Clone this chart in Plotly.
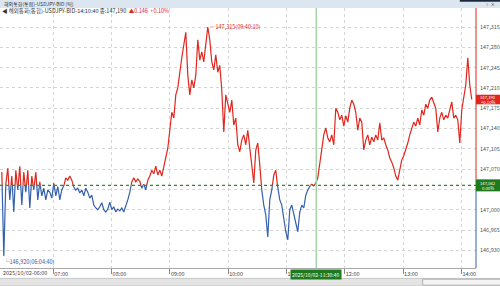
import plotly.graph_objects as go
import numpy as np

# ---- data ----
prices = [
    147.065, 146.920, 147.044, 147.072, 147.017, 147.058, 146.996, 147.068, 147.034, 147.075,
    147.008, 147.065, 147.030, 147.068, 147.003, 147.058, 147.034, 147.065, 147.017, 147.048,
    147.024, 147.037, 147.017, 147.034, 147.030, 147.020, 147.046, 147.024, 147.040, 147.017,
    147.034, 147.041, 147.055, 147.051, 147.058, 147.051, 147.039, 147.034, 147.037, 147.029,
    147.034, 147.024, 147.037, 147.030, 147.020, 147.025, 147.008, 147.003, 147.000, 147.005,
    147.012, 147.000, 146.996, 147.001, 147.013, 147.000, 147.005, 146.996, 147.001, 146.998,
    147.003, 146.996, 147.006, 147.017, 147.030, 147.048, 147.055, 147.048, 147.053, 147.049,
    147.037, 147.044, 147.034, 147.051, 147.058, 147.068, 147.062, 147.075, 147.060, 147.068,
    147.058, 147.075, 147.086, 147.106, 147.137, 147.168, 147.158, 147.198, 147.210, 147.241,
    147.262, 147.284, 147.306, 147.232, 147.198, 147.224, 147.210, 147.232, 147.293, 147.258,
    147.272, 147.255, 147.284, 147.315, 147.293, 147.255, 147.241, 147.267, 147.237, 147.249,
    147.206, 147.134, 147.198, 147.181, 147.168, 147.189, 147.146, 147.158, 147.112, 147.100,
    147.120, 147.129, 147.112, 147.137, 147.103, 147.072, 147.046, 147.103, 147.115, 147.077,
    147.034, 147.008, 146.991, 146.953, 147.017, 147.034, 147.060, 147.068, 147.037, 147.017,
    147.008, 146.982, 146.962, 146.948, 147.000, 147.008, 146.991, 146.974, 146.962, 146.996,
    147.008, 147.003, 147.025, 147.034, 147.041, 147.044, 147.041, 147.046, 147.055, 147.077,
    147.103, 147.129, 147.141, 147.124, 147.117, 147.129, 147.112, 147.175, 147.168, 147.155,
    147.163, 147.144, 147.162, 147.151, 147.175, 147.189, 147.182, 147.168, 147.137, 147.158,
    147.151, 147.103, 147.120, 147.129, 147.112, 147.125, 147.117, 147.129, 147.120, 147.150,
    147.120, 147.124, 147.112, 147.103, 147.089, 147.082, 147.072, 147.058, 147.051, 147.072,
    147.086, 147.093, 147.103, 147.115, 147.129, 147.141, 147.151, 147.144, 147.158, 147.146,
    147.172, 147.163, 147.182, 147.175, 147.189, 147.194, 147.184, 147.175, 147.134, 147.158,
    147.168, 147.155, 147.163, 147.158, 147.172, 147.186, 147.158, 147.163, 147.155, 147.115,
    147.172, 147.193, 147.215, 147.262, 147.215, 147.190,
]
base_price = 147.042
last_price = 147.190
y_ticks = [146.930, 146.965, 147.000, 147.035, 147.070, 147.105,
           147.140, 147.175, 147.210, 147.245, 147.280, 147.315]
y_tick_text = ["146,930", "146,965", "147,000", "", "147,070", "147,105",
               "147,140", "147,175", "147,210", "147,245", "147,280", "147,315"]
hour_ticks = [7, 8, 9, 10, 11, 12, 13, 14]
hour_text = ["07:00", "08:00", "09:00", "10:00", "11:00", "12:00", "13:00", "14:00"]
first_label = "2025/10/02-06:00"
cursor_time = 11 + 30 / 60 + 40 / 3600
cursor_label = "2025/10/02-11:30:40"
max_label = "147,315(09:40:10)"
min_label = "146,920(06:04:40)"
last_box = ["147,190", "+0.10%"]
base_box = ["147,042", "0.00%"]
title_text = "해외통화(통합)-USDJPY-BID (틱)"
info_text = "◀ 해외통화(통합)-USDJPY-BID-14:10:40 종:147,190"
info_change = "▲0.146  +0.10%"

# sampling grid (hours since midnight)
t_start = 6 + 7 / 60
t_end = 14 + 10 / 60 + 40 / 3600
times = list(np.linspace(t_start, t_end, len(prices)))

RED = "#e0261e"
BLUE = "#3560ac"
GREEN_BOX = "#1d7a1d"
FONT = "Noto Sans CJK KR, Liberation Sans, sans-serif"

# split line into above/below-baseline pieces
rx, ry, bx, by = [], [], [], []


def add(xl, yl, p0, p1):
    if xl and xl[-1] is not None and xl[-1] == p0[0] and yl[-1] == p0[1]:
        xl.append(p1[0]); yl.append(p1[1])
    else:
        if xl:
            xl.append(None); yl.append(None)
        xl.extend([p0[0], p1[0]]); yl.extend([p0[1], p1[1]])


for i in range(len(prices) - 1):
    x0, y0, x1, y1 = times[i], prices[i], times[i + 1], prices[i + 1]
    a0, a1 = y0 >= base_price, y1 >= base_price
    if a0 == a1:
        if a0:
            add(rx, ry, (x0, y0), (x1, y1))
        else:
            add(bx, by, (x0, y0), (x1, y1))
    else:
        f = (base_price - y0) / (y1 - y0)
        xc = x0 + f * (x1 - x0)
        pc = (xc, base_price)
        if a0:
            add(rx, ry, (x0, y0), pc); add(bx, by, pc, (x1, y1))
        else:
            add(bx, by, (x0, y0), pc); add(rx, ry, pc, (x1, y1))

fig = go.Figure()
fig.add_trace(go.Scatter(x=bx, y=by, mode="lines", line=dict(color=BLUE, width=1.2),
                         hoverinfo="skip", showlegend=False))
fig.add_trace(go.Scatter(x=rx, y=ry, mode="lines", line=dict(color=RED, width=1.2),
                         hoverinfo="skip", showlegend=False))

x_range = [6.0858, 14.2504]
y_range = [146.8995, 147.3478]
PX = (y_range[1] - y_range[0]) / 260.0  # value per pixel (for box heights)

shapes = []
# baseline
shapes.append(dict(type="line", xref="paper", x0=0, x1=1, yref="y", y0=base_price, y1=base_price,
                   line=dict(color="#2a8a2a", width=1.2, dash="dot")))
# cursor line
shapes.append(dict(type="line", xref="x", x0=cursor_time, x1=cursor_time, yref="paper", y0=0, y1=1,
                   line=dict(color="#a8d2a8", width=1.5)))
# right border red/blue
shapes.append(dict(type="line", xref="paper", x0=1, x1=1, yref="y", y0=base_price, y1=y_range[1],
                   line=dict(color=RED, width=1)))
shapes.append(dict(type="line", xref="paper", x0=1, x1=1, yref="y", y0=y_range[0], y1=base_price,
                   line=dict(color=BLUE, width=1)))
# right value boxes
shapes.append(dict(type="rect", xref="paper", x0=1.0, x1=1.06, yref="y",
                   y0=last_price - 4.8 * PX, y1=last_price + 4.8 * PX,
                   fillcolor=RED, line=dict(width=0), layer="above"))
shapes.append(dict(type="rect", xref="paper", x0=1.0, x1=1.06, yref="y",
                   y0=base_price - 6 * PX, y1=base_price + 6 * PX,
                   fillcolor=GREEN_BOX, line=dict(width=0), layer="above"))
# title bar
shapes.append(dict(type="rect", xref="paper", x0=-0.01, x1=1.06, yref="paper", y0=1.0, y1=1.035,
                   fillcolor="#dce6f0", line=dict(width=0), layer="above"))
shapes.append(dict(type="rect", xref="paper", x0=0.966, x1=1.06, yref="paper", y0=1.024, y1=1.035,
                   fillcolor="#1d2a3c", line=dict(width=0), layer="above"))
# bottom band / scrollbar
shapes.append(dict(type="rect", xref="paper", x0=-0.01, x1=1.06, yref="paper", y0=-0.069, y1=-0.04,
                   fillcolor="#e4e4e4", line=dict(color="#c8c8c8", width=1), layer="above"))
shapes.append(dict(type="rect", xref="paper", x0=0.888, x1=1.06, yref="paper", y0=-0.066, y1=-0.043,
                   fillcolor="#f4f4f4", line=dict(color="#b0b0b0", width=1), layer="above"))

annotations = []
annotations.append(dict(xref="paper", yref="paper", x=0.004, y=1.0154, xanchor="left", yanchor="middle",
                        text=title_text, showarrow=False, font=dict(family=FONT, size=5, color="#333")))
annotations.append(dict(xref="paper", yref="paper", x=1.045, y=1.014, xanchor="right", yanchor="middle",
                        text="▫ ×", showarrow=False, font=dict(family=FONT, size=4.5, color="#333")))
annotations.append(dict(xref="paper", yref="paper", x=0.0, y=0.9885, xanchor="left", yanchor="middle",
                        text=info_text + "  <span style='color:" + RED + "'>" + info_change + "</span>",
                        showarrow=False, font=dict(family=FONT, size=5.5, color="#333")))
annotations.append(dict(xref="paper", yref="paper", x=0.002, y=-0.02, xanchor="left", yanchor="middle",
                        text=first_label, showarrow=False, font=dict(family=FONT, size=5.5, color="#444")))
# extreme labels
i_max = int(np.argmax(prices))
i_min = int(np.argmin(prices))
annotations.append(dict(x=times[i_max], y=prices[i_max], xanchor="left", yanchor="middle",
                        text="─" + max_label, showarrow=False, font=dict(family=FONT, size=5.5, color=RED)))
annotations.append(dict(x=times[i_min], y=prices[i_min], xanchor="left", yanchor="top", xshift=-2,
                        text="└" + min_label, showarrow=False, font=dict(family=FONT, size=5.5, color=BLUE)))
# cursor time box
annotations.append(dict(x=cursor_time, yref="paper", y=-0.002, xanchor="center", yanchor="top",
                        text=cursor_label, showarrow=False, bgcolor=GREEN_BOX, borderpad=1,
                        font=dict(family=FONT, size=5, color="white")))
# right value box texts
for val, lines in ((last_price, last_box), (base_price, base_box)):
    annotations.append(dict(xref="paper", x=1.025, y=val, yshift=2.2, xanchor="center", yanchor="middle",
                            text=lines[0], showarrow=False,
                            font=dict(family=FONT, size=4.2, color="white")))
    annotations.append(dict(xref="paper", x=1.025, y=val, yshift=-2.2, xanchor="center", yanchor="middle",
                            text=lines[1], showarrow=False,
                            font=dict(family=FONT, size=4.2, color="white")))

fig.update_layout(
    width=500, height=286, autosize=False,
    margin=dict(l=0, r=24, t=8, b=18),
    paper_bgcolor="white", plot_bgcolor="white",
    showlegend=False,
    shapes=shapes, annotations=annotations,
    xaxis=dict(range=x_range, tickvals=hour_ticks, ticktext=hour_text, showgrid=True,
               gridcolor="#d4d4d4", griddash="dot", gridwidth=1, zeroline=False,
               showline=True, linecolor="#a8a8a8", linewidth=1,
               ticks="outside", ticklen=5, tickcolor="#888", ticklabelposition="outside right",
               tickfont=dict(family=FONT, size=5.5, color="#444"), fixedrange=True),
    yaxis=dict(range=y_range, side="right", tickvals=y_ticks, ticktext=y_tick_text,
               showgrid=True, gridcolor="#d4d4d4", griddash="dot", gridwidth=1, zeroline=False,
               showline=False, ticks="", ticklabelstandoff=3,
               tickfont=dict(family=FONT, size=5.5, color="#555"), fixedrange=True),
)

fig.write_html("out.html")
